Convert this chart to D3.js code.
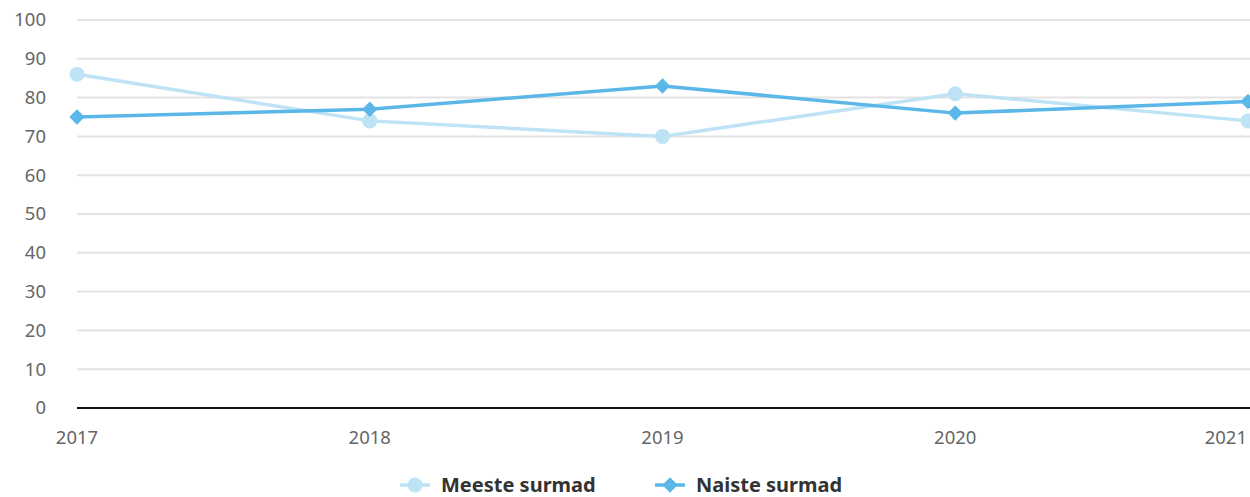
<!DOCTYPE html>
<html><head><meta charset="utf-8">
<script src="https://cdn.jsdelivr.net/npm/d3@7"></script>
<style>body{margin:0;background:#fff;}svg{display:block;font-family:"Noto Sans",sans-serif;}</style>
</head><body>
<svg id="c" width="1250" height="497"></svg>
<script>
const years = ["2017","2018","2019","2020","2021"];
const meeste = [86, 74, 70, 81, 74];
const naiste = [75, 77, 83, 76, 79];
const yTicks = [0,10,20,30,40,50,60,70,80,90,100];
const seriesNames = ["Meeste surmad","Naiste surmad"];
const colors = ["#bde3f5","#5ab7e8"];

const svg = d3.select("#c");
const x = d3.scalePoint().domain(years).range([77,1248]);
const y = d3.scaleLinear().domain([0,100]).range([408,20]);

svg.append("g").selectAll("line").data(yTicks.filter(d=>d>0)).join("line")
  .attr("x1",77).attr("x2",1250).attr("y1",d=>y(d)).attr("y2",d=>y(d))
  .attr("stroke","#e3e3e3").attr("stroke-width",2);
svg.append("g").selectAll("text").data(yTicks).join("text")
  .attr("x",46).attr("y",d=>y(d)).attr("dy","0.35em").attr("text-anchor","end")
  .attr("fill","#666").attr("font-size",18.5).text(d=>d);
svg.append("line").attr("x1",77).attr("x2",1250).attr("y1",y(0)).attr("y2",y(0))
  .attr("stroke","#111").attr("stroke-width",2);
svg.append("g").selectAll("text").data(years).join("text")
  .attr("x",(d,i)=>i===years.length-1?1247:x(d)).attr("y",444)
  .attr("text-anchor",(d,i)=>i===years.length-1?"end":"middle")
  .attr("fill","#666").attr("font-size",18.5).text(d=>d);

const line = d3.line().x((d,i)=>x(years[i])).y(d=>y(d));
[meeste,naiste].forEach((vals,si)=>{
  svg.append("path").datum(vals).attr("d",line).attr("fill","none")
    .attr("stroke",colors[si]).attr("stroke-width",3.5);
});
svg.append("g").selectAll("circle").data(meeste).join("circle")
  .attr("cx",(d,i)=>x(years[i])).attr("cy",d=>y(d)).attr("r",7.5).attr("fill",colors[0]);
const diamond = d3.symbol().type(d3.symbolDiamond2).size(150);
svg.append("g").selectAll("path").data(naiste).join("path")
  .attr("transform",(d,i)=>`translate(${x(years[i])},${y(d)})`).attr("d",diamond).attr("fill",colors[1]);

// legend
const lg = svg.append("g");
const lx = [400, 655];
seriesNames.forEach((n,i)=>{
  const g = lg.append("g").attr("transform",`translate(${lx[i]},485)`);
  g.append("line").attr("x1",0).attr("x2",30).attr("stroke",colors[i]).attr("stroke-width",3.5);
  if(i===0) g.append("circle").attr("cx",15).attr("r",7.5).attr("fill",colors[i]);
  else g.append("path").attr("transform","translate(15,0)").attr("d",diamond).attr("fill",colors[i]);
  g.append("text").attr("x",41).attr("dy","0.35em").attr("font-size",20).attr("font-weight","bold")
    .attr("fill","#333").text(n);
});
</script>
</body></html>
